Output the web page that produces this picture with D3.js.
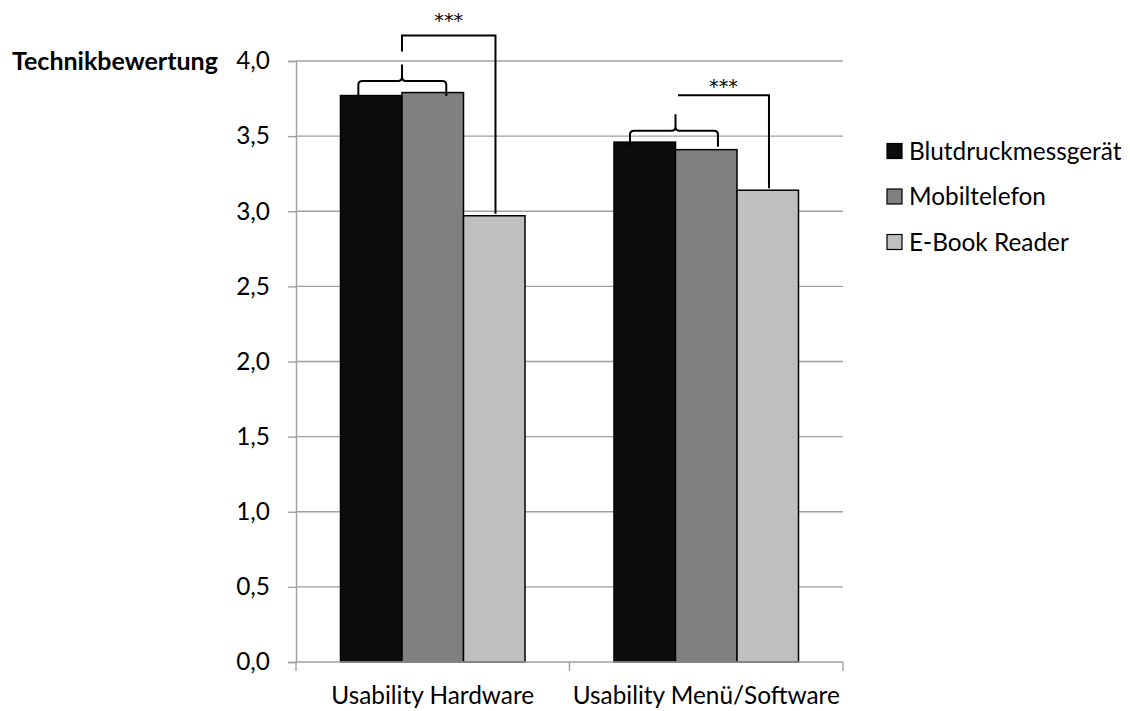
<!DOCTYPE html>
<html>
<head>
<meta charset="utf-8">
<script src="https://cdn.jsdelivr.net/npm/d3@7"></script>
<style>
  html, body { margin: 0; padding: 0; background: #fff; }
  svg { display: block; }
  text { font-family: Lato, "Open Sans", sans-serif; fill: #000; }
</style>
</head>
<body>
<svg id="chart" width="1130" height="711"></svg>
<script>
// ---- data ----
const categories = ["Usability Hardware", "Usability Menü/Software"];
const seriesNames = ["Blutdruckmessgerät", "Mobiltelefon", "E-Book Reader"];
const blutdruckValues = [3.77, 3.46];
const mobilValues = [3.79, 3.41];
const ebookValues = [2.97, 3.14];
const yTickValues = [0, 0.5, 1.0, 1.5, 2.0, 2.5, 3.0, 3.5, 4.0];
const yTickLabels = ["0,0", "0,5", "1,0", "1,5", "2,0", "2,5", "3,0", "3,5", "4,0"];
const sigLabels = ["***", "***"];
const axisTitle = "Technikbewertung";

const seriesValues = [blutdruckValues, mobilValues, ebookValues];
const colors = ["#0d0d0d", "#808080", "#bfbfbf"];

const svg = d3.select("#chart");

// measure helper to size the Calibri-like text
function measure(str, weight, family) {
  const t = svg.append("text").attr("font-size", 100).attr("font-weight", weight || "normal")
    .style("font-family", family || null).text(str);
  const w = t.node().getComputedTextLength();
  t.remove();
  return w;
}
const starFamily = "'DejaVu Sans', sans-serif";
const baseFs = 203 / measure("Usability Hardware") * 100;
const boldFs = 206 / measure(axisTitle, "bold") * 100;
const starFs = 29 / measure("***", "normal", starFamily) * 100;

const plot = { left: 296, right: 843, top: 61, bottom: 662 };

const y = d3.scaleLinear().domain([0, 4]).range([plot.bottom, plot.top]);
const x0 = d3.scaleBand().domain(categories).range([plot.left, plot.right]).paddingInner(0).paddingOuter(0);
const bw0 = x0.bandwidth();
const gap = bw0 * 0.1627;
const x1 = d3.scaleBand().domain(seriesNames).range([gap, bw0 - gap]).padding(0);
const bw = x1.bandwidth();

// gridlines
svg.append("g")
  .selectAll("line")
  .data(yTickValues.filter(v => v > 0))
  .join("line")
  .attr("x1", plot.left).attr("x2", plot.right)
  .attr("y1", d => y(d)).attr("y2", d => y(d))
  .attr("stroke", "#a0a0a0").attr("stroke-width", 1.4);

// y axis
const yAxis = d3.axisLeft(y).tickValues(yTickValues).tickSize(8).tickPadding(18)
  .tickFormat((d, i) => yTickLabels[i]);
const gy = svg.append("g").attr("transform", `translate(${plot.left},0)`).call(yAxis);
gy.select(".domain").attr("stroke", "#a0a0a0").attr("stroke-width", 1.4);
gy.selectAll(".tick line").attr("stroke", "#a0a0a0").attr("stroke-width", 1.4);
gy.selectAll(".tick text").attr("font-size", baseFs).attr("font-family", "Lato").attr("fill", "#000");

// bars
const groups = svg.append("g").selectAll("g")
  .data(categories)
  .join("g")
  .attr("transform", d => `translate(${x0(d)},0)`);

groups.selectAll("rect")
  .data((c, ci) => seriesNames.map((s, si) => ({ s, si, v: seriesValues[si][ci] })))
  .join("rect")
  .attr("x", d => x1(d.s))
  .attr("width", bw)
  .attr("y", d => y(d.v))
  .attr("height", d => y(0) - y(d.v))
  .attr("fill", d => colors[d.si])
  .attr("stroke", "#000")
  .attr("stroke-width", 1.5);

// x axis
svg.append("line")
  .attr("x1", plot.left).attr("x2", plot.right)
  .attr("y1", y(0)).attr("y2", y(0))
  .attr("stroke", "#a0a0a0").attr("stroke-width", 1.4);
const xTickPos = [plot.left].concat(categories.map(c => x0(c) + bw0));
svg.append("g").selectAll("line")
  .data(xTickPos)
  .join("line")
  .attr("x1", d => d).attr("x2", d => d)
  .attr("y1", y(0)).attr("y2", y(0) + 9)
  .attr("stroke", "#a0a0a0").attr("stroke-width", 1.4);
svg.append("g").selectAll("text")
  .data(categories)
  .join("text")
  .attr("x", d => x0(d) + bw0 / 2)
  .attr("y", y(0) + 42)
  .attr("text-anchor", "middle")
  .attr("font-size", baseFs)
  .text(d => d);

// axis title
svg.append("text")
  .attr("x", 12).attr("y", y(4) + 9)
  .attr("font-weight", "bold")
  .attr("font-size", boldFs)
  .text(axisTitle);

// legend
const legend = svg.append("g").selectAll("g")
  .data(seriesNames)
  .join("g")
  .attr("transform", (d, i) => `translate(887,${151 + i * 45.5})`);
legend.append("rect")
  .attr("x", 0).attr("y", -7.5).attr("width", 15).attr("height", 15)
  .attr("fill", (d, i) => colors[i]).attr("stroke", "#000").attr("stroke-width", 1.2);
legend.append("text")
  .attr("x", 22).attr("y", 0).attr("dy", "0.36em")
  .attr("font-size", baseFs)
  .text(d => d);

// significance braces & brackets
const ann = svg.append("g").attr("fill", "none").attr("stroke", "#000").attr("stroke-width", 2);
const braceSpec = [
  { l: 0.29, r: 0.72, endDrop: [14, 15], bracketTop: 45.5, joinCusp: true, starRise: 19 },
  { l: 0.26, r: 0.69, endDrop: [15, 16], bracketTop: 35.3, joinCusp: false, starRise: 13 }
];
categories.forEach((c, ci) => {
  const gx = x0(c);
  const spec = braceSpec[ci];
  const bx0 = gx + x1(seriesNames[0]);
  const bx1 = gx + x1(seriesNames[1]);
  const bx2 = gx + x1(seriesNames[2]);
  const xl = bx0 + spec.l * bw;
  const xr = bx1 + spec.r * bw;
  const xc = bx1;
  const top = Math.min(y(seriesValues[0][ci]), y(seriesValues[1][ci]));
  const hy = top - 11.5;
  const cuspY = hy - 16.5;
  const r = 4;
  const p = d3.path();
  p.moveTo(xl, hy + spec.endDrop[0]);
  p.lineTo(xl, hy + r);
  p.quadraticCurveTo(xl, hy, xl + r, hy);
  p.lineTo(xc - r, hy);
  p.quadraticCurveTo(xc, hy, xc, hy - r);
  p.lineTo(xc, cuspY);
  p.moveTo(xr, hy + spec.endDrop[1]);
  p.lineTo(xr, hy + r);
  p.quadraticCurveTo(xr, hy, xr - r, hy);
  p.lineTo(xc + r, hy);
  p.quadraticCurveTo(xc, hy, xc, hy - r);
  ann.append("path").attr("d", p.toString());

  // bracket to third bar
  const tx = bx2 + bw * 0.52;
  const ty = cuspY - spec.bracketTop + 16.5;
  const q = d3.path();
  if (spec.joinCusp) {
    q.moveTo(xc, cuspY - 13);
    q.lineTo(xc, ty);
  } else {
    q.moveTo(xc + 2.5, ty);
  }
  q.lineTo(tx, ty);
  q.lineTo(tx, y(seriesValues[2][ci]) - 2);
  ann.append("path").attr("d", q.toString());

  svg.append("text")
    .attr("x", ((spec.joinCusp ? xc : xc + 2.5) + tx) / 2)
    .attr("y", ty - spec.starRise)
    .attr("dy", "0.55em")
    .attr("text-anchor", "middle")
    .style("font-family", starFamily)
    .attr("font-size", starFs)
    .text(sigLabels[ci]);
});
</script>
</body>
</html>
